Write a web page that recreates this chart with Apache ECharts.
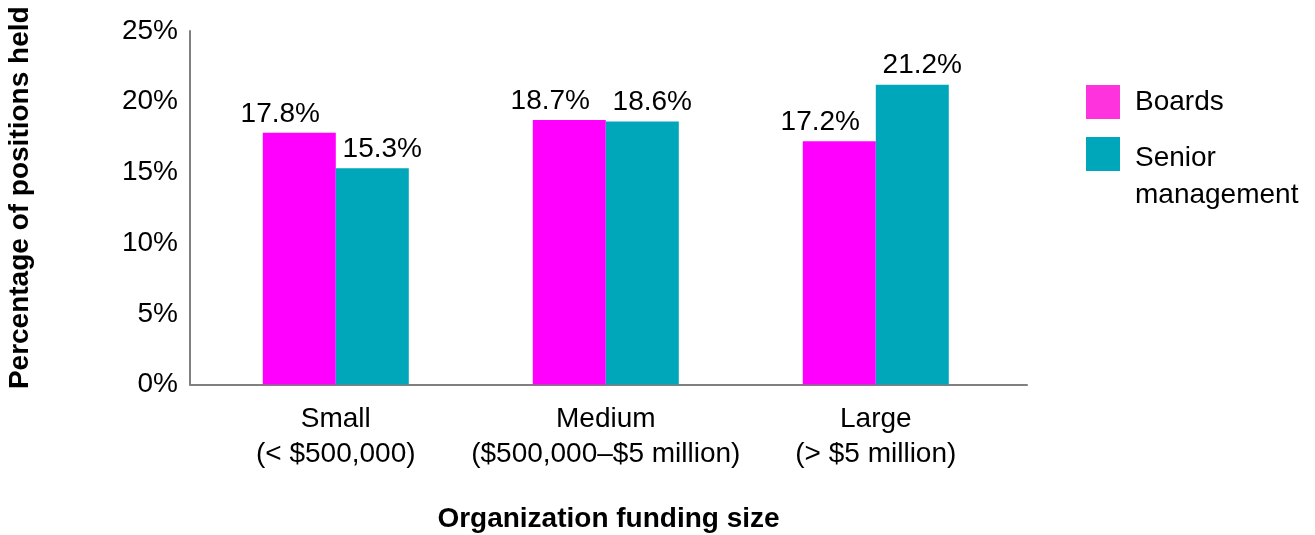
<!DOCTYPE html>
<html>
<head>
<meta charset="utf-8">
<script src="https://cdn.jsdelivr.net/npm/echarts@6/dist/echarts.min.js"></script>
<style>
  html, body { margin: 0; padding: 0; background: #fff; }
  #chart { width: 1315px; height: 535px; }
</style>
</head>
<body>
<div id="chart"></div>
<script>
// data
var categories = ['Small\n(< $500,000)', 'Medium\n($500,000–$5 million)', 'Large\n(> $5 million)'];
var boards = [17.8, 18.7, 17.2];
var seniorMgmt = [15.3, 18.6, 21.2];
var yTicks = [0, 5, 10, 15, 20, 25];

var FONT = '"Liberation Sans", Arial, Helvetica, sans-serif';
var FS = 28;

function toPoints(arr) {
  return arr.map(function (v, i) { return [i, v]; });
}

var chart = echarts.init(document.getElementById('chart'));
var option = {
  animation: false,
  textStyle: {fontFamily: FONT},
  grid: {left: 190, right: 288, top: 31, bottom: 150.5, containLabel: false, outerBoundsMode: 'none'},
  legend: {
    orient: 'vertical',
    left: 1086,
    top: 83.5,
    padding: 0,
    itemWidth: 34,
    itemHeight: 34,
    itemGap: -26,
    icon: 'rect',
    textStyle: {
      fontSize: FS, lineHeight: 37, color: '#000', fontFamily: FONT,
      rich: {
        g: {fontSize: 10, lineHeight: 45},
        t: {fontSize: FS, lineHeight: 37, color: '#000', fontFamily: FONT}
      }
    },
    formatter: function (name) {
      // second entry wraps, first line level with the swatch
      return name === 'Senior management' ? '{g| }\n{t|Senior}\n{t|management}' : name;
    },
    data: [
      {name: 'Boards', itemStyle: {color: '#ff33dd'}, textStyle: {padding: [0, 0, 0, 10]}},
      {name: 'Senior management', textStyle: {padding: [0, 0, 0, 10]}}
    ]
  },
  xAxis: {
    type: 'value',
    min: -0.54,
    max: 2.56,
    name: 'Organization funding size',
    nameLocation: 'middle',
    nameGap: 121,
    nameTextStyle: {fontSize: FS, fontWeight: 'bold', color: '#000', fontFamily: FONT},
    axisLine: {show: true, onZero: false, lineStyle: {color: '#808080', width: 2}},
    axisTick: {show: false},
    splitLine: {show: false},
    axisLabel: {
      customValues: [0, 1, 2],
      fontSize: FS,
      lineHeight: 35,
      color: '#000',
      margin: 17,
      formatter: function (v) { return categories[Math.round(v)]; }
    }
  },
  yAxis: {
    type: 'value',
    min: 0,
    max: 25,
    interval: 5,
    name: 'Percentage of positions held',
    nameLocation: 'middle',
    nameGap: 156,
    nameTextStyle: {fontSize: FS, fontWeight: 'bold', color: '#000', fontFamily: FONT, padding: [0, 0, 0, 20]},
    axisLine: {show: true, onZero: false, lineStyle: {color: '#808080', width: 2}},
    axisTick: {show: false},
    splitLine: {show: false},
    axisLabel: {
      fontSize: FS,
      color: '#000',
      margin: 12,
      formatter: function (v) { return yTicks.indexOf(v) >= 0 ? v + '%' : ''; }
    }
  },
  series: [
    {
      name: 'Boards',
      type: 'bar',
      data: toPoints(boards),
      barWidth: 73,
      barGap: '0%',
      itemStyle: {color: '#ff00ff'},
      label: {
        show: true,
        position: 'top',
        distance: 5,
        offset: [-19, 0],
        fontSize: FS,
        color: '#000',
        formatter: function (p) { return p.value[1].toFixed(1) + '%'; }
      }
    },
    {
      name: 'Senior management',
      type: 'bar',
      data: toPoints(seniorMgmt),
      barWidth: 73,
      barGap: '0%',
      itemStyle: {color: '#00a7ba'},
      label: {
        show: true,
        position: 'top',
        distance: 5,
        offset: [10, 0],
        fontSize: FS,
        color: '#000',
        formatter: function (p) { return p.value[1].toFixed(1) + '%'; }
      }
    }
  ]
};
chart.setOption(option);
</script>
</body>
</html>
